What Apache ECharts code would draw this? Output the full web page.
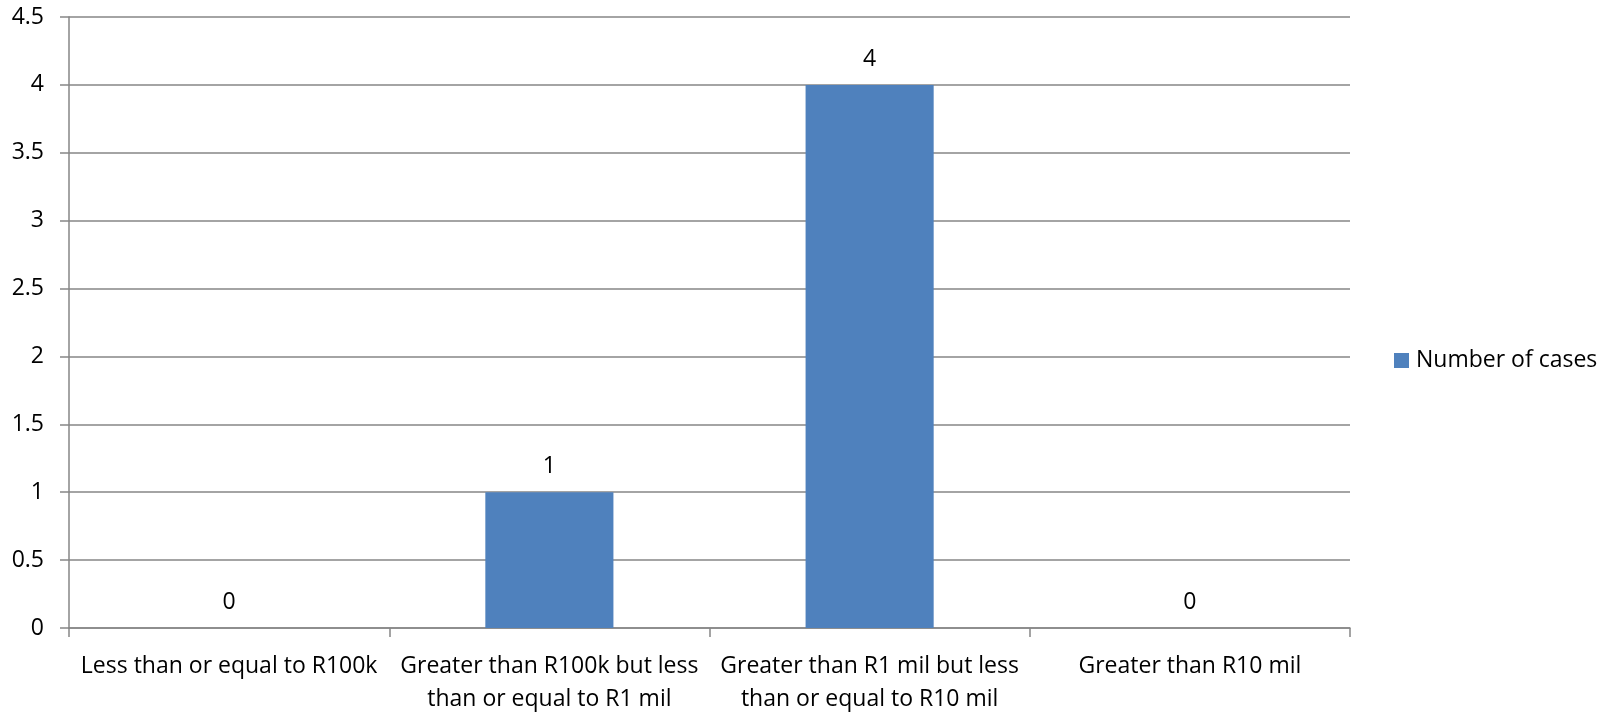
<!DOCTYPE html>
<html>
<head>
<meta charset="utf-8">
<script src="https://cdn.jsdelivr.net/npm/echarts@6/dist/echarts.min.js"></script>
<style>html,body{margin:0;padding:0;background:#fff;}#c{width:1604px;height:714px;}</style>
</head>
<body>
<div id="c"></div>
<script>
var categories = [
  "Less than or equal to R100k",
  "Greater than R100k but less\nthan or equal to R1 mil",
  "Greater than R1 mil but less\nthan or equal to R10 mil",
  "Greater than R10 mil"
];
var seriesName = "Number of cases";
var values = [0, 1, 4, 0];
var yMin = 0, yMax = 4.5, yInterval = 0.5;

var FONT = "Open Sans";
var FS = 23;
var chart = echarts.init(document.getElementById('c'), null, {renderer: 'canvas'});
chart.setOption({
  animation: false,
  backgroundColor: '#ffffff',
  textStyle: {fontFamily: FONT},
  grid: {left: 69, right: 254, top: 17, bottom: 86, containLabel: false, outerBoundsMode: 'none'},
  legend: {
    data: [seriesName],
    orient: 'vertical',
    left: 1389,
    top: 344,
    itemWidth: 15,
    itemHeight: 15,
    icon: 'rect',
    textStyle: {fontFamily: FONT, fontSize: FS, color: '#000', padding: [0,0,0,2]}
  },
  xAxis: {
    type: 'category',
    data: categories,
    axisLine: {lineStyle: {color: '#868686', width: 1.5}},
    axisTick: {show: true, length: 9, alignWithLabel: false, lineStyle: {color: '#868686', width: 1.5}},
    axisLabel: {fontFamily: FONT, fontSize: FS, color: '#000', margin: 22, lineHeight: 33, interval: 0, align: 'center'},
    splitLine: {show: false}
  },
  yAxis: {
    type: 'value',
    min: yMin, max: yMax, interval: yInterval,
    axisLine: {show: true, lineStyle: {color: '#868686', width: 1.5}},
    axisTick: {show: true, length: 9, lineStyle: {color: '#868686', width: 1.5}},
    axisLabel: {fontFamily: FONT, fontSize: FS, color: '#000', margin: 25},
    splitLine: {show: true, lineStyle: {color: '#868686', width: 1.5}}
  },
  series: [{
    name: seriesName,
    type: 'bar',
    data: values,
    barWidth: '40%',
    itemStyle: {color: '#4F81BD'},
    label: {show: true, position: 'top', distance: 14, fontFamily: FONT, fontSize: FS, color: '#000'}
  }]
});
</script>
</body>
</html>
